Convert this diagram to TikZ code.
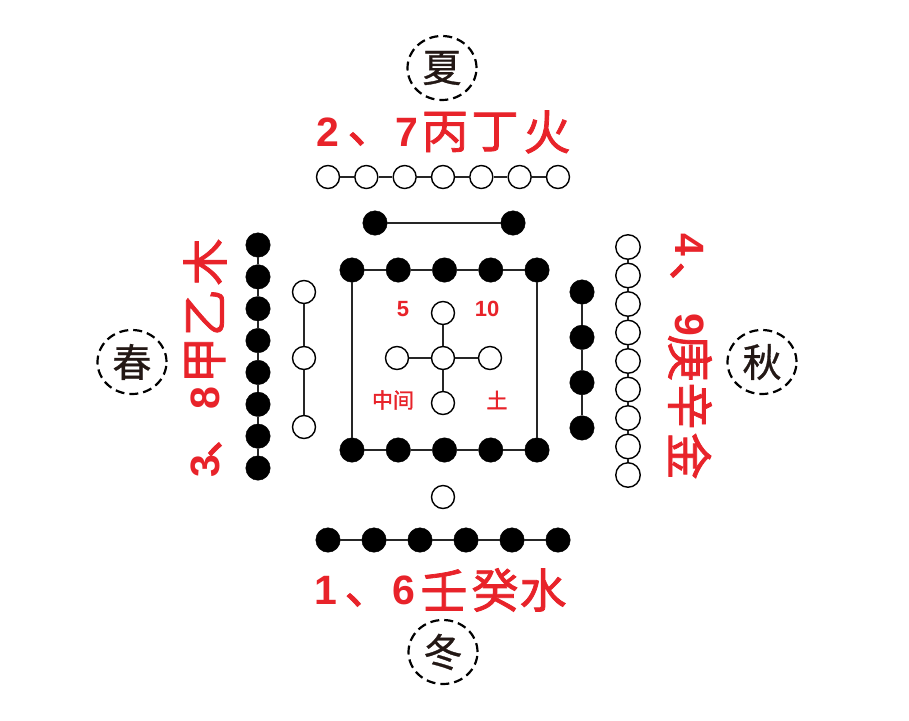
\documentclass[tikz,border=0pt]{standalone}
\usepackage{fontspec}
\newfontfamily\cjk{Noto Sans CJK SC}
\newfontfamily\cjkm[FakeBold=1.6]{Noto Sans CJK SC}
\newfontfamily\cjks[FakeBold=0.8]{Noto Sans CJK SC}
\newfontfamily\digf{Liberation Sans}
\usetikzlibrary{shapes.geometric}
\definecolor{hred}{HTML}{E8232A}
\definecolor{ink}{HTML}{231815}
\begin{document}
\begin{tikzpicture}[x=1pt,y=-1pt,
 wd/.style={circle,draw=black,line width=1.4pt,fill=white,minimum size=23pt,inner sep=0},
 bd/.style={circle,draw=black,fill=black,minimum size=24.5pt,inner sep=0},
 ln/.style={line width=1.6pt,black!85},
 season/.style={ellipse,draw=black,dash pattern=on 9pt off 5pt,line width=2.2pt,minimum width=69pt,minimum height=64pt,inner sep=0,font=\cjks\fontsize{39}{39}\selectfont,text=ink},
 rl/.style={text=hred,font=\cjkm\fontsize{47}{47}\selectfont,inner sep=0},
 rd/.style={text=hred,font=\digf\bfseries\fontsize{41}{41}\selectfont,inner sep=0},
 sl/.style={text=hred,font=\cjkm\fontsize{21}{21}\selectfont,inner sep=0},
 sd/.style={text=hred,font=\digf\bfseries\fontsize{22}{22}\selectfont,inner sep=0}]
\useasboundingbox[fill=white] (0,0) rectangle (909,720);
% seasons
\node[season] (xia) at (442,68) {夏};
\node[season] (chun) at (132,362) {春};
\node[season] (qiu) at (762,362) {秋};
\node[season] (dong) at (443,652) {冬};
% top label
\node[rd] (t1) at (328,132) {2};
\node[rl] (t2) at (371,139) {、};
\node[rd] (t3) at (407,132) {7};
\node[rl] (t4) at (445,132) {丙};
\node[rl] (t5) at (495,132) {丁};
\node[rl] (t6) at (547,132) {火};
% bottom label
\node[rd] (b1) at (326,590) {1};
\node[rl] (b2) at (368,600) {、};
\node[rd] (b3) at (404,590) {6};
\node[rl] (b4) at (444,590) {壬};
\node[rl] (b5) at (495,590) {癸};
\node[rl] (b6) at (543,590) {水};
% left label
\node[rd,rotate=90] (l1) at (205,466) {3};
\node[rl,rotate=90] (l2) at (215,435) {、};
\node[rd,rotate=90] (l3) at (205,398) {8};
\node[rl,rotate=90] (l4) at (205,360) {甲};
\node[rl,rotate=90] (l5) at (205,313) {乙};
\node[rl,rotate=90] (l6) at (205,262) {木};
% right label
\node[rd,rotate=-90] (r1) at (690,245) {4};
\node[rl,rotate=-90] (r2) at (677,285) {、};
\node[rd,rotate=-90] (r3) at (690,325) {9};
\node[rl,rotate=-90] (r4) at (690,358) {庚};
\node[rl,rotate=-90] (r5) at (690,406) {辛};
\node[rl,rotate=-90] (r6) at (690,456) {金};
% top: 7 open
\foreach \i in {0,...,6} \node[wd] (s\i) at ({328+38.33*\i},177) {};
\foreach \i [evaluate=\i as \j using int(\i+1)] in {0,...,5} \draw[ln] (s\i) -- (s\j);
% top: 2 black
\node[bd] (u0) at (375,223) {};
\node[bd] (u1) at (513,223) {};
\draw[ln] (u0) -- (u1);
% square rows
\foreach \i in {0,...,4} {
  \node[bd] (q\i) at ({352+46.25*\i},270) {};
  \node[bd] (p\i) at ({352+46.25*\i},450) {};
}
\foreach \i [evaluate=\i as \j using int(\i+1)] in {0,...,3} {
  \draw[ln] (q\i) -- (q\j);
  \draw[ln] (p\i) -- (p\j);
}
\draw[ln] (q0) -- (p0);
\draw[ln] (q4) -- (p4);
% centre cross
\node[wd] (c) at (443,358) {};
\node[wd] (cu) at (443,313) {};
\node[wd] (cd) at (443,403) {};
\node[wd] (cl) at (397,358) {};
\node[wd] (cr) at (490,358) {};
\draw[ln] (c) -- (cu);
\draw[ln] (c) -- (cd);
\draw[ln] (c) -- (cl);
\draw[ln] (c) -- (cr);
\node[sd] (n5) at (403,309) {5};
\node[sd] (n10) at (487,309) {10};
\node[sl] (zj) at (393,400) {中间};
\node[sl] (tu) at (497,400) {土};
% bottom single open + 6 black
\node[wd] (d0) at (443,497) {};
\foreach \i in {0,...,5} \node[bd] (w\i) at ({328+46*\i},540) {};
\foreach \i [evaluate=\i as \j using int(\i+1)] in {0,...,4} \draw[ln] (w\i) -- (w\j);
% left: 8 black
\foreach \i in {0,...,7} \node[bd] (e\i) at (258,{245+31.86*\i}) {};
\foreach \i [evaluate=\i as \j using int(\i+1)] in {0,...,6} \draw[ln] (e\i) -- (e\j);
% left inner: 3 open
\node[wd] (f0) at (304,292) {};
\node[wd] (f1) at (304,358) {};
\node[wd] (f2) at (304,427) {};
\draw[ln] (f0) -- (f1);
\draw[ln] (f1) -- (f2);
% right inner: 4 black
\foreach \i in {0,...,3} \node[bd] (g\i) at (582,{292+45.3*\i}) {};
\foreach \i [evaluate=\i as \j using int(\i+1)] in {0,...,2} \draw[ln] (g\i) -- (g\j);
% right: 9 open
\foreach \i in {0,...,8} \node[wd,minimum size=24.5pt] (h\i) at (628,{247+28.5*\i}) {};
\foreach \i [evaluate=\i as \j using int(\i+1)] in {0,...,7} \draw[ln] (h\i) -- (h\j);
\end{tikzpicture}
\end{document}
